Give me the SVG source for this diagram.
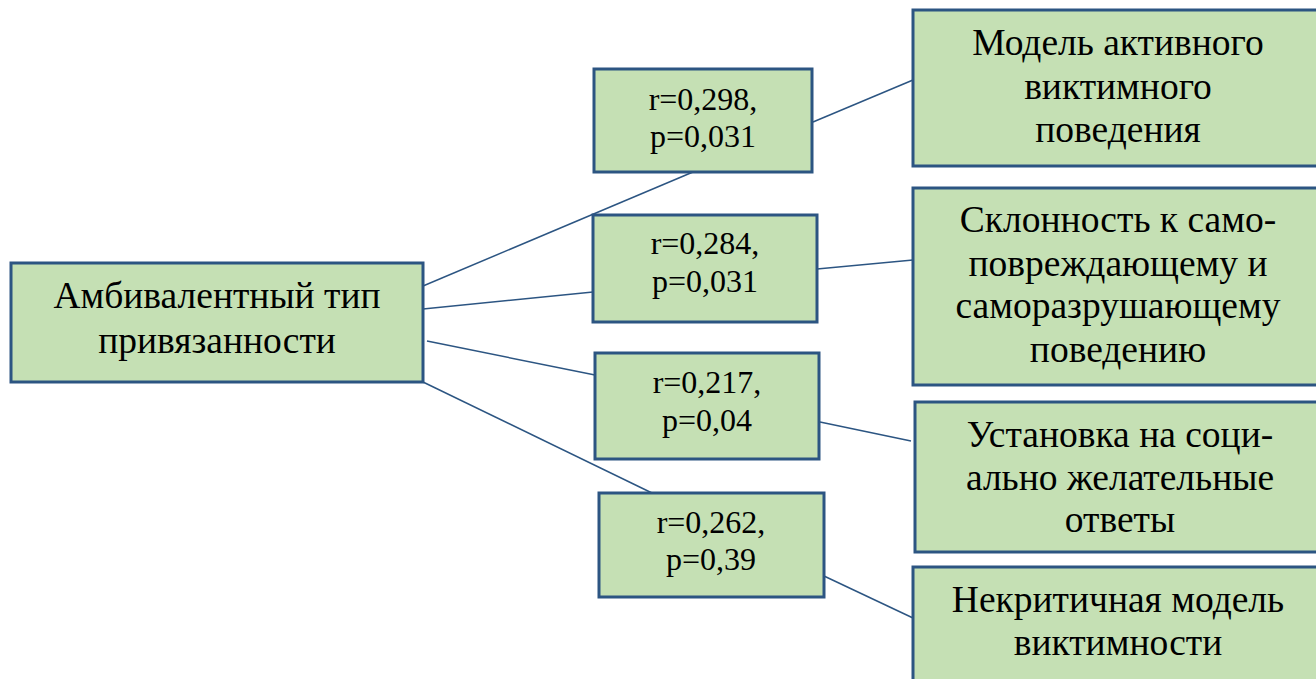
<svg xmlns="http://www.w3.org/2000/svg" width="1316" height="679" viewBox="0 0 1316 679">
<style>
.box{fill:#c5e0b4;stroke:#2c5582;stroke-width:3}
.c{stroke:#2c5582;stroke-width:1.5;fill:none}
.t{font-family:"Liberation Serif","Times New Roman","DejaVu Serif",serif;fill:#000;text-anchor:middle}
.big{font-size:37.5px}
.mid{font-size:32px}
</style>
<rect width="1316" height="679" fill="#ffffff"/>
<g id="connectors">
<line class="c" x1="423" y1="286" x2="693" y2="172"/>
<line class="c" x1="423" y1="309" x2="593" y2="292"/>
<line class="c" x1="427" y1="341" x2="595" y2="375"/>
<line class="c" x1="423" y1="382" x2="652" y2="493"/>
<line class="c" x1="813" y1="122" x2="913" y2="80"/>
<line class="c" x1="817" y1="269" x2="913" y2="260"/>
<line class="c" x1="820" y1="422" x2="911" y2="441"/>
<line class="c" x1="824" y1="576" x2="913" y2="618"/>
</g>
<g id="n-main">
<rect class="box" x="11" y="263" width="412" height="119"/>
<text class="t big" x="217" y="308">Амбивалентный тип</text>
<text class="t big" x="217" y="353">привязанности</text>
</g>
<g id="n-r1">
<rect class="box" x="594" y="69" width="218" height="103"/>
<text class="t mid" x="703" y="110">r=0,298,</text>
<text class="t mid" x="703" y="147">p=0,031</text>
</g>
<g id="n-r2">
<rect class="box" x="593" y="215" width="224" height="107"/>
<text class="t mid" x="705" y="254">r=0,284,</text>
<text class="t mid" x="705" y="292">p=0,031</text>
</g>
<g id="n-r3">
<rect class="box" x="595" y="353" width="224" height="106"/>
<text class="t mid" x="707" y="393">r=0,217,</text>
<text class="t mid" x="707" y="431">p=0,04</text>
</g>
<g id="n-r4">
<rect class="box" x="599" y="493" width="225" height="104"/>
<text class="t mid" x="711" y="533">r=0,262,</text>
<text class="t mid" x="711" y="570">p=0,39</text>
</g>
<g id="n-a">
<rect class="box" x="913" y="10" width="410" height="156"/>
<text class="t big" x="1118" y="55">Модель активного</text>
<text class="t big" x="1118" y="99">виктимного</text>
<text class="t big" x="1118" y="142">поведения</text>
</g>
<g id="n-b">
<rect class="box" x="913" y="188" width="410" height="197"/>
<text class="t big" x="1118" y="232">Склонность к само-</text>
<text class="t big" x="1118" y="276">повреждающему и</text>
<text class="t big" x="1118" y="318">саморазрушающему</text>
<text class="t big" x="1118" y="362">поведению</text>
</g>
<g id="n-c">
<rect class="box" x="915" y="402" width="408" height="150"/>
<text class="t big" x="1120" y="447">Установка на соци-</text>
<text class="t big" x="1120" y="490">ально желательные</text>
<text class="t big" x="1120" y="532">ответы</text>
</g>
<g id="n-d">
<rect class="box" x="913" y="567" width="410" height="120"/>
<text class="t big" x="1118" y="612">Некритичная модель</text>
<text class="t big" x="1118" y="655">виктимности</text>
</g>
</svg>
